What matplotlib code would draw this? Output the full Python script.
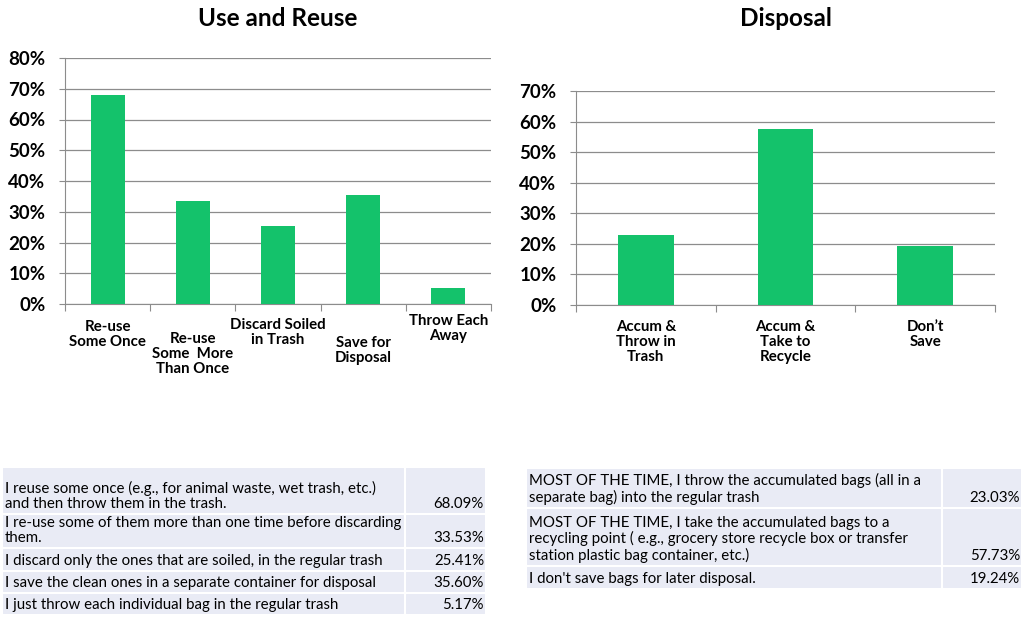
import matplotlib.pyplot as plt
from matplotlib.patches import Rectangle
from matplotlib.ticker import PercentFormatter

# data
use_cats = ["Re-use\nSome Once", "Re-use\nSome  More\nThan Once", "Discard Soiled\nin Trash",
            "Save for\nDisposal", "Throw Each\nAway"]
use_vals = [68.09, 33.53, 25.41, 35.60, 5.17]
disp_cats = ["Accum &\nThrow in\nTrash", "Accum &\nTake to\nRecycle", "Don\u2019t\nSave"]
disp_vals = [23.03, 57.73, 19.24]

use_rows = ["I reuse some once (e.g., for animal waste, wet trash, etc.)\nand then throw them in the trash.",
            "I re-use some of them more than one time before discarding\nthem.",
            "I discard only the ones that are soiled, in the regular trash",
            "I save the clean ones in a separate container for disposal",
            "I just throw each individual bag in the regular trash"]
disp_rows = ["MOST OF THE TIME, I throw the accumulated bags (all in a\nseparate bag) into the regular trash",
             "MOST OF THE TIME, I take the accumulated bags to a\nrecycling point ( e.g., grocery store recycle box or transfer\nstation plastic bag container, etc.)",
             "I don't save bags for later disposal."]

GREEN = "#14C26B"
GRID = "#8C8C8C"
FONT = "Lato"

fig = plt.figure(figsize=(10.24, 6.25), dpi=100)


def bar_chart(rect, cats, vals, ymax, title, label_offsets):
    ax = fig.add_axes(rect)
    x = list(range(len(cats)))
    ax.bar(x, [v / 100 for v in vals], width=0.4, color=GREEN, zorder=3)
    ax.set_xlim(-0.5, len(cats) - 0.5)
    ax.set_ylim(0, ymax)
    ax.yaxis.set_major_formatter(PercentFormatter(1.0, decimals=0))
    ax.set_yticks([i / 10 for i in range(int(round(ymax * 10)) + 1)])
    ax.grid(axis="y", color=GRID, lw=0.9, zorder=0)
    for s in ["top", "right"]:
        ax.spines[s].set_visible(False)
    for s in ["left", "bottom"]:
        ax.spines[s].set_color(GRID)
    ax.tick_params(axis="y", length=4, color=GRID, labelsize=13.5, pad=10)
    for t in ax.get_yticklabels():
        t.set_fontweight("bold")
        t.set_fontfamily(FONT)
    ax.set_xticks([i - 0.5 for i in range(len(cats) + 1)])
    ax.set_xticklabels([])
    ax.tick_params(axis="x", length=5, color=GRID, direction="out")
    for i, c in enumerate(cats):
        ax.text(i, -label_offsets[i], c, transform=ax.get_xaxis_transform(),
                ha="center", va="top", fontsize=10.8, fontweight="bold",
                family=FONT, linespacing=1.1)
    fig.text(rect[0] + rect[2] / 2, 0.97, title, ha="center", va="center",
             fontsize=17.5, fontweight="bold", family=FONT)
    return ax


bar_chart([0.0635, 0.5136, 0.416, 0.3936], use_cats, use_vals, 0.8, "Use and Reuse",
          [0.065, 0.115, 0.055, 0.13, 0.04])
bar_chart([0.5625, 0.512, 0.4092, 0.3424], disp_cats, disp_vals, 0.7, "Disposal",
          [0.07, 0.07, 0.07])


def table(x0, x1, xsplit, y0, heights, rows, vals):
    ax = fig.add_axes([0, 0, 1, 1], zorder=-1)
    ax.set_xlim(0, 1024)
    ax.set_ylim(625, 0)
    ax.axis("off")
    y = y0
    for h, txt, v in zip(heights, rows, vals):
        ax.add_patch(Rectangle((x0, y), xsplit - x0, h, facecolor="#E9EBF5",
                               edgecolor="white", lw=1.5))
        ax.add_patch(Rectangle((xsplit, y), x1 - xsplit, h, facecolor="#E9EBF5",
                               edgecolor="white", lw=1.5))
        ax.text(x0 + 3, y + h - 3, txt, ha="left", va="bottom", fontsize=10.8,
                family=FONT, linespacing=1.12)
        ax.text(x1 - 2, y + h - 3, f"{v:.2f}%", ha="right", va="bottom",
                fontsize=10.8, family=FONT)
        y += h


table(2, 486, 405, 467, [47, 34, 23, 22, 22], use_rows, use_vals)
table(526, 1022, 942, 468, [40, 58, 23], disp_rows, disp_vals)

fig.savefig("out.png", dpi=100)
